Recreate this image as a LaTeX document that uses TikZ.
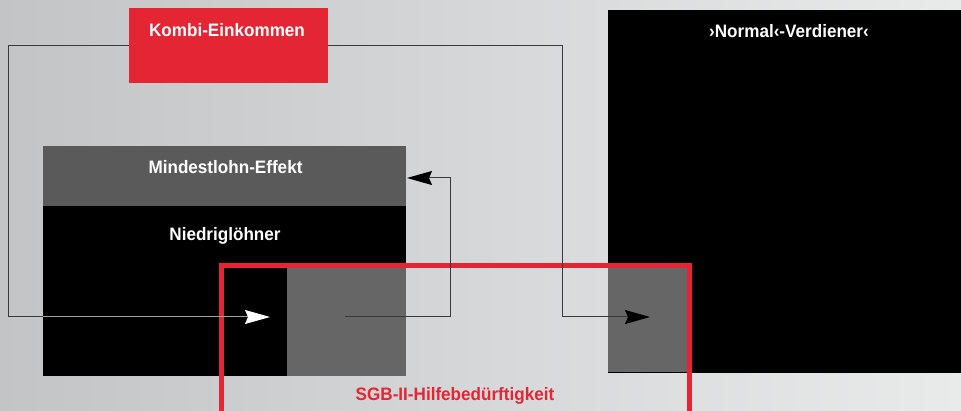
\documentclass[tikz,border=0pt]{standalone}
\usepackage{fontspec}
\setmainfont{Liberation Sans}[FakeStretch=0.95]
\usetikzlibrary{arrows.meta}
\definecolor{bgL}{HTML}{C3C4C6}
\definecolor{bgR}{HTML}{E9EAEA}
\definecolor{kred}{HTML}{E42533}
\definecolor{hdr}{HTML}{5A5A5A}
\definecolor{ingray}{HTML}{666666}
\definecolor{conncol}{HTML}{3A3A3A}
\definecolor{lightconn}{HTML}{A0A0A0}
\begin{document}
\begin{tikzpicture}[x=1pt,y=-1pt,
  box/.style={draw=none,inner sep=0pt,outer sep=0pt,anchor=north west},
  lbl/.style={font=\bfseries\fontsize{18}{20}\selectfont,text=white,inner sep=0pt,anchor=base},
  conn/.style={draw=conncol,line width=1pt},
  tipblack/.style={-{Stealth[length=25pt,width=14pt,inset=3pt,black]}},
  tipwhite/.style={-{Stealth[length=25pt,width=14pt,inset=3pt,white]}}
]
\useasboundingbox (0,0) rectangle (961,411);
\clip (0,0) rectangle (961,411);
\shade[left color=bgL,right color=bgR] (0,0) rectangle (961,411);

% boxes
\node[box,fill=kred,minimum width=199pt,minimum height=75pt] (kombi) at (129,8) {};
\node[box,fill=hdr,minimum width=363pt,minimum height=60pt] (mindest) at (43,146) {};
\node[box,fill=black,minimum width=363pt,minimum height=170pt] (niedrig) at (43,206) {};
\node[box,fill=ingray,minimum width=119pt,minimum height=110pt] (lowgray) at (287,266) {};
\node[box,fill=black,minimum width=370pt,minimum height=363pt] (normal) at (608,10) {};
\node[box,fill=ingray,minimum width=82pt,minimum height=106pt] (normgray) at (608,266) {};
\node[box,draw=kred,line width=5pt,minimum width=468.5pt,minimum height=220pt] (sgb) at (221,266) {};

% texts
\node[lbl] (tk) at (227,36.7) {Kombi-Einkommen};
\node[lbl] (tm) at (225.5,174) {Mindestlohn-Effekt};
\node[lbl] (tn) at (225,241) {Niedriglöhner};
\node[lbl] (tv) at (789,37.7) {›Normal‹-Verdiener‹};
\node[lbl,text=kred] (ts) at (455,400) {SGB-II-Hilfebedürftigkeit};

% connector coordinates
\coordinate (lturn) at (8.5,317);
\coordinate (lenter) at (43,317);
\coordinate (tipA) at (270,317);
\coordinate (rturn) at (562,317);
\coordinate (tipB) at (650,317);
\coordinate (s3) at (345,317);
\coordinate (c3) at (450,317);
\coordinate (tipC) at (407,178);

% connectors
\draw[conn] (kombi.west) -| (lturn) -- (lenter);
\draw[draw=lightconn,line width=1pt,tipwhite] (lenter) -- (tipA);
\draw[conn,tipblack] (kombi.east) -| (rturn) -- (tipB);
\draw[conn,tipblack] (s3) -- (c3) |- (tipC);
\end{tikzpicture}
\end{document}
